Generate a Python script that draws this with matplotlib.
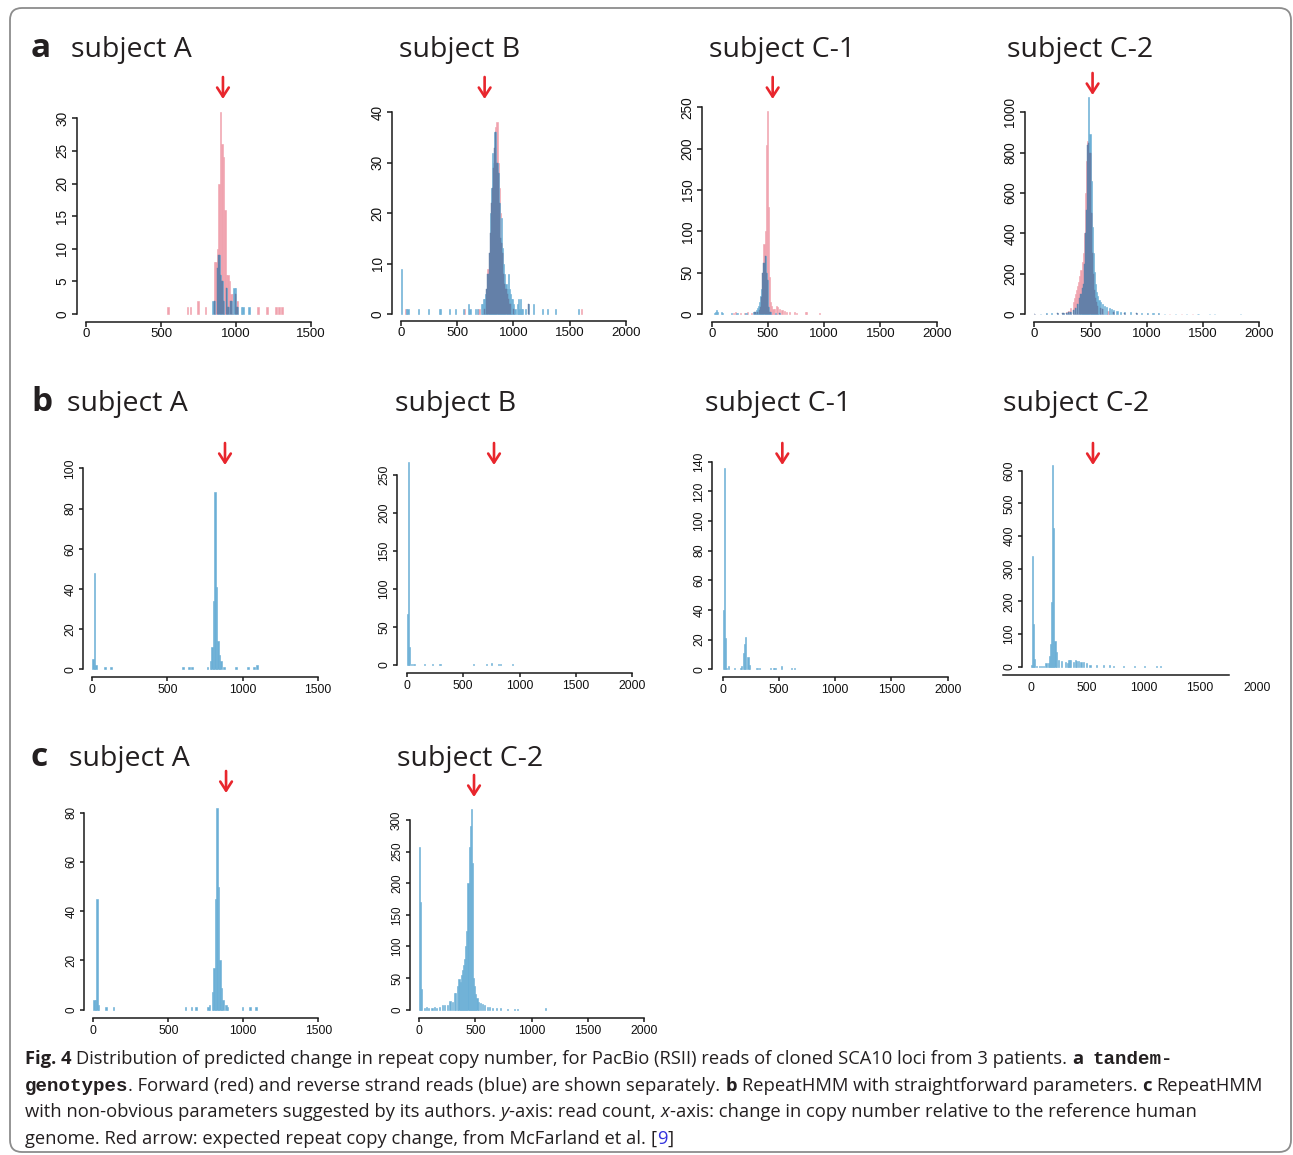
import matplotlib
matplotlib.use('Agg')
import matplotlib.pyplot as plt
from matplotlib.patches import FancyBboxPatch
from matplotlib.transforms import IdentityTransform

W, H = 1293, 1155
BW = 10  # histogram bin width (copy-number units)

PINK = '#f0a2ae'
LBLUE = '#6bafd6'
DARK = '#6480a8'
RED = '#e8262d'
TXT = '#231f20'

# ---------------- data: row a (tandem-genotypes, forward / reverse) ----------------
aA_fwd_bins = [540, 670, 690, 740, 790, 850, 860, 870, 880, 890, 900, 910, 920, 930, 940,
               950, 960, 970, 990, 1000, 1140, 1200, 1260, 1280, 1300]
aA_fwd_n = [1, 1, 1, 2, 1, 8, 8, 10, 20, 31, 26, 24, 16, 6, 6, 5, 3, 3, 3, 2, 1, 1, 1, 1, 1]
aA_rev_bins = [840, 850, 870, 880, 890, 900, 910, 930, 940, 960, 980, 990, 1000, 1030, 1040, 1080]
aA_rev_n = [2, 2, 7, 9, 6, 5, 2, 4, 1, 2, 4, 4, 1, 1, 1, 1]

aB_fwd_bins = [40, 560, 690, 740, 760, 770, 780, 790, 800, 810, 820, 830, 840, 850, 860, 870,
               880, 890, 900, 910, 920, 930, 940, 950, 960, 970, 1000, 1130, 1600]
aB_fwd_n = [1, 1, 1, 1, 5, 9, 12, 16, 22, 25, 29, 33, 37, 38, 30, 25, 20, 14, 12, 8, 6, 5,
            4, 3, 2, 2, 1, 2, 1]
aB_rev_bins = [0, 50, 60, 150, 240, 340, 350, 430, 480, 550, 600, 610, 660, 680, 710, 720,
               730, 740, 750, 760, 770, 780, 790, 800, 810, 820, 830, 840, 850, 860, 870, 880,
               890, 900, 910, 920, 930, 940, 950, 960, 970, 980, 990, 1000, 1010, 1030, 1040,
               1050, 1060, 1070, 1080, 1100, 1130, 1170, 1250, 1300, 1370, 1570]
aB_rev_n = [9, 1, 1, 1, 1, 1, 1, 1, 1, 1, 2, 1, 1, 1, 2, 2, 3, 3, 4, 5, 8, 12, 20, 25, 32,
            30, 36, 36, 30, 28, 22, 15, 19, 13, 10, 8, 6, 5, 8, 5, 4, 3, 3, 2, 1, 2, 3, 1,
            3, 1, 1, 1, 2, 2, 1, 1, 1, 1]

aC1_fwd_bins = [190, 210, 250, 290, 310, 350, 380, 400, 420, 430, 440, 450, 460, 470, 480,
                490, 500, 510, 520, 530, 540, 550, 570, 580, 600, 620, 640, 660, 690, 730,
                750, 830, 840, 950]
aC1_fwd_n = [1, 2, 1, 1, 2, 1, 2, 3, 5, 8, 20, 50, 85, 100, 204, 245, 130, 45, 15, 10, 6,
             6, 10, 8, 6, 5, 4, 3, 2, 2, 1, 3, 2, 1]
aC1_rev_bins = [20, 30, 40, 50, 80, 90, 170, 220, 300, 370, 380, 390, 400, 410, 420, 430,
                440, 450, 460, 470, 480, 490, 500, 510, 520, 560, 600]
aC1_rev_n = [1, 2, 5, 2, 2, 1, 1, 1, 1, 2, 3, 5, 7, 10, 15, 22, 30, 50, 62, 70, 50, 41, 8,
             3, 2, 1, 1]

aC2_fwd_bins = [0, 100, 200, 250, 280, 300, 320, 340, 350, 360, 370, 380, 390, 400, 410,
                420, 430, 440, 450, 460, 470, 480, 490, 500, 510, 520, 530, 540, 550, 560,
                580, 600, 650, 700, 800, 900, 1000, 1100, 1200, 1300, 1400]
aC2_fwd_n = [2, 2, 3, 5, 8, 15, 30, 60, 80, 100, 120, 140, 160, 190, 220, 260, 300, 400,
             600, 760, 860, 850, 800, 500, 300, 200, 120, 80, 60, 40, 30, 25, 15, 10, 5, 3,
             2, 2, 2, 1, 1]
aC2_rev_bins = [0, 50, 100, 150, 200, 250, 280, 300, 320, 340, 360, 380, 400, 410, 420, 430,
                440, 450, 460, 470, 480, 490, 500, 510, 520, 530, 540, 550, 560, 570, 580,
                600, 620, 640, 660, 680, 700, 730, 760, 800, 850, 900, 950, 1000, 1050, 1100,
                1150, 1250, 1350, 1450, 1550, 1600, 1830]
aC2_rev_n = [2, 2, 3, 3, 4, 5, 5, 8, 12, 20, 30, 50, 80, 100, 130, 150, 250, 400, 515, 840,
             1078, 890, 660, 430, 300, 210, 150, 110, 90, 70, 60, 50, 42, 36, 30, 25, 20, 16,
             12, 10, 8, 6, 5, 4, 3, 3, 2, 2, 1, 1, 1, 1, 1]

# ---------------- data: row b (RepeatHMM, straightforward parameters) ----------------
bA_bins = [0, 10, 20, 80, 120, 600, 640, 660, 760, 780, 790, 800, 810, 820, 830, 840, 850,
           870, 950, 1030, 1070, 1090]
bA_n = [5, 48, 2, 1, 1, 1, 1, 1, 1, 4, 11, 34, 88, 41, 14, 7, 4, 1, 1, 1, 1, 2]

bB_bins = [0, 10, 20, 40, 60, 150, 220, 290, 590, 700, 750, 810, 830, 930]
bB_n = [67, 267, 24, 1, 1, 1, 1, 1, 1, 1, 2, 1, 1, 1]

bC1_bins = [0, 10, 20, 30, 50, 100, 150, 160, 180, 190, 200, 220, 230, 300, 320, 420, 450,
            460, 520, 610, 630]
bC1_n = [40, 136, 21, 1, 2, 1, 1, 2, 11, 17, 22, 8, 3, 1, 1, 1, 1, 1, 2, 1, 1]

bC2_bins = [0, 10, 20, 30, 50, 70, 90, 110, 130, 150, 160, 170, 180, 190, 200, 210, 220,
            240, 270, 300, 320, 330, 340, 350, 370, 390, 400, 420, 440, 460, 490, 520, 580,
            640, 690, 730, 820, 910, 1000, 1110, 1140]
bC2_n = [5, 340, 132, 25, 3, 3, 3, 3, 10, 10, 33, 70, 198, 617, 425, 80, 45, 22, 18, 15,
         10, 20, 22, 20, 15, 22, 18, 18, 15, 15, 10, 6, 6, 5, 6, 3, 2, 2, 2, 2, 2]

# ---------------- data: row c (RepeatHMM, suggested parameters) ----------------
cA_bins = [0, 10, 20, 30, 80, 130, 610, 650, 680, 760, 770, 790, 800, 810, 820, 830, 840,
           850, 860, 880, 890, 990, 1040, 1080]
cA_n = [4, 4, 45, 2, 1, 1, 1, 1, 1, 1, 2, 7, 17, 45, 82, 50, 20, 9, 4, 2, 1, 1, 1, 1]

cC2_bins = [0, 10, 20, 40, 60, 80, 110, 130, 150, 180, 200, 220, 250, 270, 290, 310, 320,
            340, 350, 360, 370, 380, 390, 400, 410, 420, 430, 440, 450, 460, 470, 480, 490,
            500, 510, 520, 540, 560, 580, 600, 620, 650, 680, 720, 780, 840, 870, 1120]
cC2_n = [258, 170, 32, 3, 5, 3, 3, 5, 3, 4, 7, 7, 8, 14, 12, 27, 26, 37, 48, 44, 55, 62, 70,
         80, 100, 125, 200, 258, 290, 318, 232, 50, 38, 25, 18, 12, 10, 9, 7, 5, 4, 3, 3, 2,
         1, 1, 1, 2]

# expected repeat copy change shown by the red arrows (as drawn in each panel)
arrow_a = [913, 745, 542, 518]
arrow_b = [883, 774, 530, 551]
arrow_c = [885, 489]

fig = plt.figure(figsize=(W / 100, H / 100), dpi=100)


def make_axes(yx, x0, x1, xmax, xstep, y0, y1, ymax, ystep, xy, xfs, yfs, tlen, xpad, ypad):
    # all geometry in image pixels (origin top-left)
    left, right = yx, x1 + 14
    bottom, top = xy, y1 - 34
    ax = fig.add_axes([left / W, 1 - bottom / H, (right - left) / W, (bottom - top) / H])
    upx = xmax / (x1 - x0)
    upy = ymax / (y0 - y1)
    ax.set_xlim(-(x0 - left) * upx, xmax + (right - x1) * upx)
    ax.set_ylim(-(bottom - y0) * upy, ymax + (y1 - top) * upy)
    ax.patch.set_alpha(0)
    for s in ['top', 'right']:
        ax.spines[s].set_visible(False)
    for s in ['left', 'bottom']:
        ax.spines[s].set_linewidth(1.1)
        ax.spines[s].set_color('#1a1a1a')
    ax.spines['left'].set_bounds(0, ymax)
    ax.spines['bottom'].set_bounds(0, xmax)
    ax.set_xticks(range(0, xmax + 1, xstep))
    ax.set_yticks(range(0, ymax + 1, ystep))
    ax.tick_params(axis='x', length=tlen, width=1.1, pad=xpad, labelsize=xfs, color='#1a1a1a')
    ax.tick_params(axis='y', length=tlen, width=1.1, pad=ypad, labelsize=yfs, color='#1a1a1a')
    for lab in ax.get_xticklabels() + ax.get_yticklabels():
        lab.set_family('Liberation Sans')
        lab.set_color('#111111')
    for lab in ax.get_yticklabels():
        lab.set_rotation(90)
        lab.set_va('center')
    return ax


def draw_pair(ax, fb, fn, rb, rn):
    f = dict(zip(fb, fn))
    r = dict(zip(rb, rn))
    ax.bar(fb, fn, width=BW, align='edge', color=PINK, ec=PINK, lw=0.4, clip_on=False)
    ax.bar(rb, rn, width=BW, align='edge', color=LBLUE, ec=LBLUE, lw=0.4, clip_on=False)
    common = sorted(set(f) & set(r))
    ax.bar(common, [min(f[k], r[k]) for k in common], width=BW, align='edge',
           color=DARK, ec=DARK, lw=0.3, clip_on=False)


def draw_single(ax, b, n):
    ax.bar(b, n, width=BW, align='edge', color=LBLUE, ec=LBLUE, lw=0.4, clip_on=False)


def arrow(ax, xv, ytop, ytip):
    ax.annotate('', xy=(xv, H - ytip), xytext=(xv, H - ytop),
                xycoords=('data', 'figure pixels'), textcoords=('data', 'figure pixels'),
                annotation_clip=False,
                arrowprops=dict(arrowstyle='->,head_length=0.65,head_width=0.42',
                                color=RED, lw=1.9, mutation_scale=10, shrinkA=0, shrinkB=0))


# row a
ra = dict(xfs=9.5, yfs=9.8, tlen=3.3, xpad=1.0, ypad=2.2)
ax = make_axes(76.7, 86, 311, 1500, 500, 314, 118.3, 30, 5, 321.7, **ra)
draw_pair(ax, aA_fwd_bins, aA_fwd_n, aA_rev_bins, aA_rev_n)
arrow(ax, arrow_a[0], 77, 99)
ax = make_axes(392.3, 400.7, 626, 2000, 500, 314, 112.3, 40, 10, 320.7, **ra)
draw_pair(ax, aB_fwd_bins, aB_fwd_n, aB_rev_bins, aB_rev_n)
arrow(ax, arrow_a[1], 77, 99)
ax = make_axes(702.3, 711.7, 936.7, 2000, 500, 314, 107.3, 250, 50, 321.7, **ra)
draw_pair(ax, aC1_fwd_bins, aC1_fwd_n, aC1_rev_bins, aC1_rev_n)
arrow(ax, arrow_a[2], 77, 99)
ax = make_axes(1025, 1034.3, 1259.3, 2000, 500, 314, 112.3, 1000, 200, 321.7, **ra)
draw_pair(ax, aC2_fwd_bins, aC2_fwd_n, aC2_rev_bins, aC2_rev_n)
arrow(ax, arrow_a[3], 73, 95)

# row b
rb = dict(xfs=8.8, yfs=8.7, tlen=3.0, xpad=2.0, ypad=2.0)
ax = make_axes(83.3, 92.3, 317.7, 1500, 500, 669.3, 468.3, 100, 20, 676.7, **rb)
draw_single(ax, bA_bins, bA_n)
arrow(ax, arrow_b[0], 443, 465)
ax = make_axes(397.3, 406.7, 632.3, 2000, 500, 665, 475, 250, 50, 672.7, **rb)
draw_single(ax, bB_bins, bB_n)
arrow(ax, arrow_b[1], 443, 465)
ax = make_axes(712.3, 722.7, 947.7, 2000, 500, 669.3, 461.7, 140, 20, 677.3, **rb)
draw_single(ax, bC1_bins, bC1_n)
arrow(ax, arrow_b[2], 443, 465)
ax = make_axes(1022.3, 1030.7, 1256.7, 2000, 500, 666.7, 470.7, 600, 100, 675.3, **rb)
draw_single(ax, bC2_bins, bC2_n)
ax.spines['bottom'].set_bounds(-243, 1757)
ax.tick_params(axis='x', length=0, pad=4.5)
arrow(ax, arrow_b[3], 443, 465)

# row c
rc = dict(xfs=8.8, yfs=8.4, tlen=3.0, xpad=2.0, ypad=2.0)
ax = make_axes(84.3, 93.3, 318.3, 1500, 500, 1009.7, 812.7, 80, 20, 1017.7, **rc)
draw_single(ax, cA_bins, cA_n)
arrow(ax, arrow_c[0], 771, 793)
ax = make_axes(410, 419, 644, 2000, 500, 1009.7, 820, 300, 50, 1017.7, **rc)
draw_single(ax, cC2_bins, cC2_n)
arrow(ax, arrow_c[1], 775, 797)

# panel letters and titles
letters = [('a', 31, 57), ('b', 31, 411), ('c', 31, 766)]
for t, x, y in letters:
    fig.text(x / W, 1 - y / H, t, family='Open Sans', weight='bold', size=24,
             color=TXT, va='baseline', ha='left')
titles = [('subject A', 71, 57), ('subject B', 399, 57), ('subject C-1', 709, 57),
          ('subject C-2', 1007, 57),
          ('subject A', 67, 411), ('subject B', 395, 411), ('subject C-1', 705, 411),
          ('subject C-2', 1003, 411),
          ('subject A', 69, 766), ('subject C-2', 397, 766)]
for t, x, y in titles:
    fig.text(x / W, 1 - y / H, t, family='Open Sans', size=20.5, color=TXT,
             va='baseline', ha='left')

# caption, drawn run by run
renderer = fig.canvas.get_renderer()
CAP = 13.2
R = dict(family='Open Sans', size=CAP, color=TXT)
B = dict(family='Open Sans', size=CAP, color=TXT, weight='bold')
I = dict(family='Open Sans', size=CAP, color=TXT, style='italic')
M = dict(family='Liberation Mono', size=CAP + 0.6, color=TXT, weight='bold')
L = dict(family='Open Sans', size=CAP, color='#3333dd')


def width_of(s, kw):
    t = fig.text(0, 0, s, **kw)
    w = t.get_window_extent(renderer).width
    t.remove()
    return w


SP = width_of('x x', R) - width_of('xx', R)


def draw_runs(x, y, runs):
    for s, kw in runs:
        lead = len(s) - len(s.lstrip(' '))
        trail = len(s) - len(s.rstrip(' '))
        core = s.strip(' ')
        x += lead * SP
        if core:
            t = fig.text(x / W, 1 - y / H, core, va='baseline', ha='left', **kw)
            x += t.get_window_extent(renderer).width
        x += trail * SP


caption = [
    [('Fig. 4', B), (' Distribution of predicted change in repeat copy number, for PacBio (RSII) '
                     'reads of cloned SCA10 loci from 3 patients. ', R), ('a', B), (' ', R),
     ('tandem-', M)],
    [('genotypes', M), ('. Forward (red) and reverse strand reads (blue) are shown separately. ', R),
     ('b', B), (' RepeatHMM with straightforward parameters. ', R), ('c', B), (' RepeatHMM', R)],
    [('with non-obvious parameters suggested by its authors. ', R), ('y', I),
     ('-axis: read count, ', R), ('x', I),
     ('-axis: change in copy number relative to the reference human', R)],
    [('genome. Red arrow: expected repeat copy change, from McFarland et al. ', R), ('[', R),
     ('9', L), (']', R)],
]
for i, runs in enumerate(caption):
    draw_runs(25, 1064 + i * 26.7, runs)

# rounded frame around the figure
frame = FancyBboxPatch((10, 3), 1281, 1144, boxstyle='round,pad=0,rounding_size=12',
                       transform=IdentityTransform(), fill=False, ec='#8c8c8c', lw=1.3)
fig.add_artist(frame)

fig.savefig('out.png', dpi=100)
